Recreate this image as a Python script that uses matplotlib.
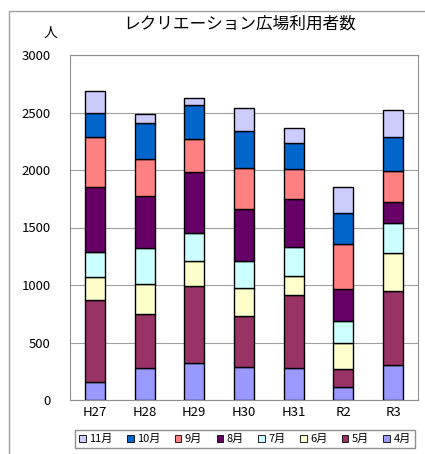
import matplotlib.pyplot as plt
import numpy as np
from matplotlib.patches import Rectangle

plt.rcParams['font.family'] = ['Noto Sans CJK JP', 'DejaVu Sans']

years = ['H27', 'H28', 'H29', 'H30', 'H31', 'R2', 'R3']
months = ['4月', '5月', '6月', '7月', '8月', '9月', '10月', '11月']
colors = ['#9999FF', '#993366', '#FFFFCC', '#CCFFFF', '#660066', '#FF8080', '#0066CC', '#CCCCFF']

apr = [159, 275, 319, 290, 275, 116, 304]
may = [710, 470, 674, 443, 637, 151, 643]
jun = [197, 260, 217, 238, 166, 226, 328]
jul = [217, 318, 239, 237, 254, 196, 266]
aug = [565, 450, 530, 449, 412, 273, 182]
sep = [440, 321, 289, 362, 269, 394, 270]
octo = [212, 316, 295, 319, 223, 272, 290]
nov = [188, 81, 64, 205, 130, 226, 237]
series = [apr, may, jun, jul, aug, sep, octo, nov]

fig = plt.figure(figsize=(4.25, 4.54), dpi=100)
fig.patches.append(Rectangle((9 / 425, -0.05), 1.1, 1 - 11 / 454 + 0.05,
                             transform=fig.transFigure, fill=False,
                             edgecolor='#a0a0a0', linewidth=1))
ax = fig.add_axes([70 / 425, 1 - 400 / 454, 348 / 425, 345 / 454])

x = np.arange(len(years))
bottom = np.zeros(len(years))
bars = []
for vals, c, m in zip(series, colors, months):
    b = ax.bar(x, vals, 0.4, bottom=bottom, color=c, edgecolor='black',
               linewidth=1, label=m, zorder=3)
    bars.append(b)
    bottom += np.array(vals)

ax.set_xlim(-0.5, 6.5)
ax.set_ylim(0, 3000)
ax.set_yticks(range(0, 3001, 500))
ax.set_xticks(x)
ax.set_xticklabels(years, fontsize=9.5)
ax.tick_params(axis='y', labelsize=9.5, length=0, pad=14)
ax.tick_params(axis='x', length=0, pad=4)
ax.grid(axis='y', color='#a0a0a0', linewidth=0.8, zorder=0)
for s in ax.spines.values():
    s.set_color('#909090')
    s.set_linewidth(0.8)

fig.text(50 / 425, 1 - 33 / 454, '人', fontsize=10, ha='center', va='center')
fig.text(240 / 425, 1 - 24 / 454, 'レクリエーション広場利用者数', fontsize=12,
         ha='center', va='center')

leg = fig.legend(bars[::-1], months[::-1], loc='center', ncol=8,
                 bbox_to_anchor=(245 / 425, 1 - 439 / 454), fontsize=8,
                 handlelength=0.6, handleheight=0.6, handletextpad=0.3,
                 columnspacing=1.3, borderpad=0.4, fancybox=False,
                 edgecolor='#909090', framealpha=1)
for h in leg.legend_handles:
    h.set_linewidth(0.6)

fig.savefig('out.png', dpi=100)
